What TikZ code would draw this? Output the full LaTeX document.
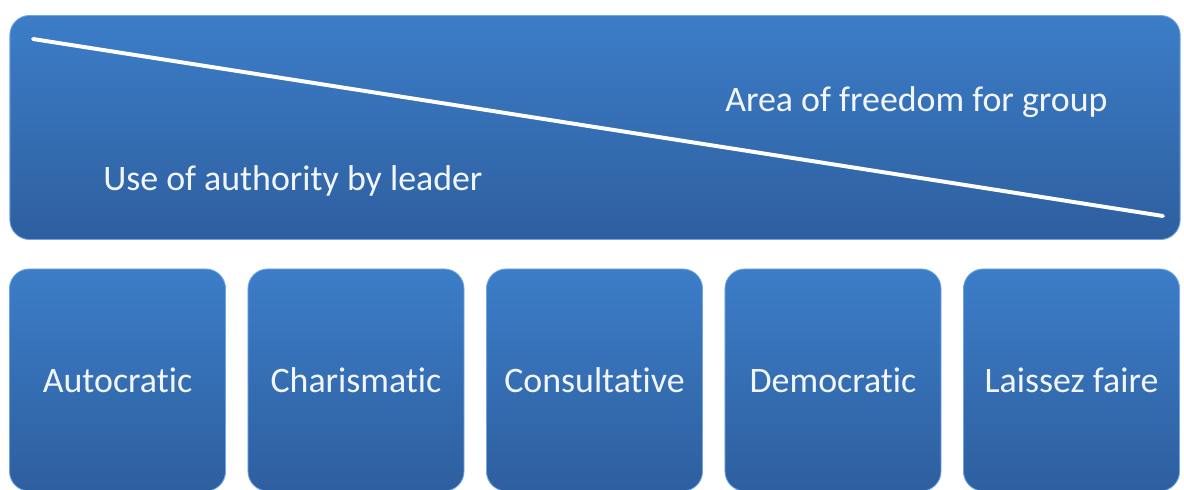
\documentclass[tikz,border=0pt]{standalone}
\usepackage{fontspec}
\setmainfont[Ligatures=NoCommon]{Carlito}
\usepackage{tikz}
\usetikzlibrary{positioning}
\definecolor{BoxTop}{HTML}{3C7DC8}
\definecolor{BoxBot}{HTML}{2E5F9F}
\definecolor{BoxRim}{HTML}{6FA6E6}
\definecolor{LabelTxt}{HTML}{F2F6FB}
\tikzset{
  pnl/.style={shade,top color=BoxTop,bottom color=BoxBot,draw=BoxRim,
    line width=0.6pt,rounded corners=14pt,inner sep=0pt},
  lvl/.style={pnl,minimum width=5.4cm,minimum height=5.55cm,
    font=\fontsize{25.5}{30}\selectfont,text=LabelTxt},
  lbl/.style={font=\fontsize{25.5}{30}\selectfont,text=LabelTxt,inner sep=0pt},
  slope/.style={draw=white,line width=2.8pt,line cap=round},
}

\begin{document}
\begin{tikzpicture}[x=0.025cm,y=-0.025cm]
\useasboundingbox (0,0) rectangle (1184,489);
% upper panel with the sliding line
\node[pnl,minimum width=29.25cm,minimum height=5.6cm] (panel) at (595,127.5) {};
\coordinate (hi) at (33,39);
\coordinate (lo) at (1163,216);
\draw[slope] (hi) -- (lo);
\node[lbl,anchor=west] (grp) at (725,102) {Area of freedom for group};
\node[lbl,anchor=west] (ldr) at (103,181) {Use of authority by leader};

% the five styles, left to right
\node[lvl] (aut) at (117.5,380)   {Autocratic};
\node[lvl] (cha) at (356,380)     {Charismatic};
\node[lvl] (con) at (594.5,380)   {Consultative};
\node[lvl] (dem) at (833,380)     {Democratic};
\node[lvl] (lai) at (1071.5,380)  {Laissez faire};
\end{tikzpicture}
\end{document}
